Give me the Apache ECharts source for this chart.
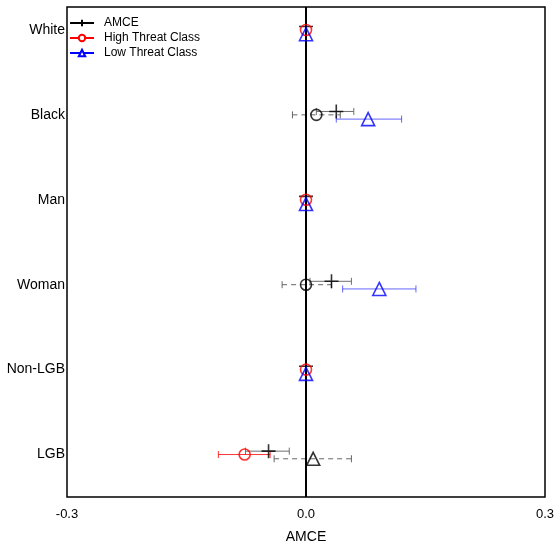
<!DOCTYPE html>
<html><head><meta charset="utf-8">
<script src="https://cdn.jsdelivr.net/npm/echarts@6/dist/echarts.min.js"></script>
<style>html,body{margin:0;padding:0;background:#fff}#c{width:554px;height:546px}</style>
</head><body><div id="c"></div>
<script>
const categories = ['White','Black','Man','Woman','Non-LGB','LGB'];
const rowPos = [6,5,4,3,2,1];
const xTicks = [-0.3, 0.0, 0.3];
const amceEst = [0, 0.038, 0, 0.032, 0, -0.047];
const amceLo  = [0, 0.013, 0, 0.005, 0, -0.076];
const amceHi  = [0, 0.060, 0, 0.057, 0, -0.021];
const highEst = [0, 0.013, 0, 0.000, 0, -0.077];
const highLo  = [0, -0.017, 0, -0.030, 0, -0.110];
const highHi  = [0, 0.043, 0, 0.032, 0, -0.045];
const lowEst  = [0, 0.078, 0, 0.092, 0, 0.009];
const lowLo   = [0, 0.038, 0, 0.046, 0, -0.040];
const lowHi   = [0, 0.120, 0, 0.138, 0, 0.057];

const FONT = 'Liberation Sans, Arial, Helvetica, sans-serif';
const PLUS = 'path://M5,0L5,10M0,5L10,5';
const groups = [
  {name:'AMCE', est:amceEst, lo:amceLo, hi:amceHi, off:0.04, color:'#000', ci:'#6f6f6f', symbol:PLUS, size:14, amce:true},
  {name:'High Threat Class', est:highEst, lo:highLo, hi:highHi, off:0, color:'#ff0000', ci:'rgba(255,0,0,0.8)', symbol:'circle', size:11},
  {name:'Low Threat Class', est:lowEst, lo:lowLo, hi:lowHi, off:-0.05, color:'#0000ff', ci:'rgba(50,50,255,0.75)', symbol:'triangle', size:13}
];

function isSig(lo, hi){ return lo > 0 || hi < 0; }
function isRef(lo, hi){ return lo === 0 && hi === 0; }

const series = [];
series.push({type:'line', data:[], silent:true, markLine:{silent:true, symbol:'none', label:{show:false},
  lineStyle:{color:'#000', width:2, type:'solid'}, data:[{xAxis:0}]}, z:1});

groups.forEach((g, gi) => {
  const bars = [];
  g.est.forEach((v, i) => {
    if (isRef(g.lo[i], g.hi[i])) return;
    let stroke, dash;
    if (g.amce || isSig(g.lo[i], g.hi[i])) { stroke = g.ci; dash = 0; }
    else { stroke = '#666'; dash = 1; }
    bars.push({value:[g.lo[i], g.hi[i], rowPos[i] + g.off], stroke, dash});
  });
  series.push({
    type:'custom', name:g.name + ' CI', data:bars, z:2, silent:true,
    renderItem:function(params, api){
      const d = bars[params.dataIndex];
      const p1 = api.coord([api.value(0), api.value(2)]);
      const p2 = api.coord([api.value(1), api.value(2)]);
      const h = 3.5;
      const st = {stroke:d.stroke, lineWidth:1, lineDash: d.dash ? [5,4] : null};
      return {type:'group', children:[
        {type:'line', shape:{x1:p1[0], y1:p1[1], x2:p2[0], y2:p2[1]}, style:st},
        {type:'line', shape:{x1:p1[0], y1:p1[1]-h, x2:p1[0], y2:p1[1]+h}, style:{stroke:d.stroke, lineWidth:1}},
        {type:'line', shape:{x1:p2[0], y1:p2[1]-h, x2:p2[0], y2:p2[1]+h}, style:{stroke:d.stroke, lineWidth:1}}
      ]};
    },
    encode:{x:[0,1], y:2}
  });
  const pts = g.est.map((v, i) => {
    let c = g.color;
    if (!g.amce && !isRef(g.lo[i], g.hi[i]) && !isSig(g.lo[i], g.hi[i])) c = '#000';
    return {value:[v, rowPos[i] + g.off], itemStyle:{color:'none', borderColor:c, borderWidth:1.6}};
  });
  series.push({type:'scatter', name:g.name + ' pts', data:pts, symbol:g.symbol, symbolSize:g.size, z:5 + gi, silent:true});
  series.push({type:'line', name:g.name, data:[], symbol:g.symbol, symbolSize:6,
    lineStyle:{color:g.color, width:1}, itemStyle:{color:'#fff', borderColor:g.color, borderWidth:1}});
});

const chart = echarts.init(document.getElementById('c'), null, {renderer:'canvas'});
chart.setOption({
  animation:false,
  backgroundColor:'#fff',
  textStyle:{fontFamily:FONT},
  grid:{left:67, right:9, top:7, bottom:49, show:true, borderColor:'#000', borderWidth:1.5, backgroundColor:'transparent',
    containLabel:false, outerBoundsMode:'none'},
  legend:{show:true, data:groups.map(g => g.name), orient:'vertical', left:64, top:12, itemWidth:24, itemHeight:8, itemGap:3,
    textStyle:{fontSize:12, color:'#000', fontFamily:FONT, padding:[0,0,0,5]}, backgroundColor:'transparent', selectedMode:false},
  xAxis:{type:'value', min:xTicks[0], max:xTicks[2], interval:0.3, axisLine:{show:false}, axisTick:{show:false}, splitLine:{show:false},
    axisLabel:{fontSize:13, color:'#000', margin:11, fontFamily:FONT, formatter:v => v.toFixed(1)},
    name:'AMCE', nameLocation:'middle', nameGap:33, nameTextStyle:{fontSize:14, color:'#000', fontFamily:FONT}},
  yAxis:{type:'value', min:0.5, max:6.27, axisLine:{show:false}, axisTick:{show:false}, splitLine:{show:false},
    axisLabel:{customValues:rowPos, fontSize:14, color:'#000', margin:2, fontFamily:FONT,
      formatter:v => categories[rowPos.indexOf(Math.round(v))]}},
  series:series
});
</script></body></html>
